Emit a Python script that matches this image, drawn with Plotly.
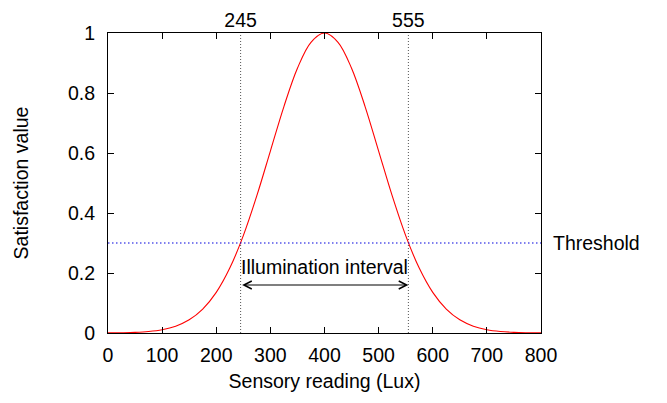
import plotly.graph_objects as go

# Sensory reading (Lux) and satisfaction value
lux = [0, 25, 50, 75, 100, 125, 150, 175, 200, 225, 250, 275, 300, 325, 350, 375,
       400, 425, 450, 475, 500, 525, 550, 575, 600, 625, 650, 675, 700, 725, 750, 775, 800]
satisfaction = [0.0003, 0.0009, 0.0022, 0.0051, 0.0111, 0.0228, 0.0439, 0.0796, 0.1353,
                0.2163, 0.3247, 0.4578, 0.6065, 0.7548, 0.8825, 0.969, 1.0,
                0.969, 0.8825, 0.7548, 0.6065, 0.4578, 0.3247, 0.2163, 0.1353, 0.0796,
                0.0439, 0.0228, 0.0111, 0.0051, 0.0022, 0.0009, 0.0003]

threshold = 0.3
interval = [245, 555]
interval_label = "Illumination interval"
arrow_level = 0.16
x_ticks = [0, 100, 200, 300, 400, 500, 600, 700, 800]
y_ticks = [0, 0.2, 0.4, 0.6, 0.8, 1]
y_ticktext = ["0", "0.2", "0.4", "0.6", "0.8", "1"]

FONT = "Liberation Sans"
FS = 19.5

fig = go.Figure()
fig.add_trace(go.Scatter(x=lux, y=satisfaction, mode="lines",
                         line=dict(color="#ff0000", width=1.1, shape="spline"),
                         showlegend=False, hoverinfo="x+y"))
# invisible trace for the top axis
fig.add_trace(go.Scatter(x=interval, y=[threshold, threshold], xaxis="x2", mode="markers",
                         marker=dict(opacity=0), showlegend=False, hoverinfo="skip"))

shapes = []
for xv in interval:
    shapes.append(dict(type="line", xref="x", yref="y", x0=xv, x1=xv, y0=0, y1=1,
                       line=dict(color="#555555", width=1, dash="1px,2px"), layer="below"))
shapes.append(dict(type="line", xref="x", yref="y", x0=0, x1=800, y0=threshold, y1=threshold,
                   line=dict(color="#0000dd", width=1.2, dash="1.5px,2.5px")))
fig.update_layout(shapes=shapes)

fig.add_annotation(x=interval[1], y=arrow_level, ax=interval[0], ay=arrow_level,
                   xref="x", yref="y", axref="x", ayref="y", text="",
                   showarrow=True, arrowhead=5, arrowside="end+start",
                   arrowsize=1.3, arrowwidth=1.2, arrowcolor="black")
fig.add_annotation(x=sum(interval) / 2, y=arrow_level, xref="x", yref="y",
                   text=interval_label, showarrow=False, yshift=18,
                   font=dict(family=FONT, size=FS, color="black"))
fig.add_annotation(x=1.022, y=threshold, xref="paper", yref="y", text="Threshold",
                   showarrow=False, xanchor="left",
                   font=dict(family=FONT, size=FS, color="black"))

fig.update_layout(
    width=659, height=395,
    margin=dict(l=100, r=126, t=25, b=70, autoexpand=False),
    plot_bgcolor="white", paper_bgcolor="white",
    font=dict(family=FONT, size=FS, color="black"),
    xaxis=dict(range=[0, 800], tickvals=x_ticks, ticks="inside", ticklen=6,
               tickcolor="black", showline=True, linecolor="black", linewidth=1,
               mirror="ticks", showgrid=False, zeroline=False, automargin=False,
               ticklabelstandoff=5,
               title=dict(text="Sensory reading (Lux)", standoff=8,
                          font=dict(family=FONT, size=FS)),
               tickfont=dict(family=FONT, size=FS)),
    xaxis2=dict(range=[0, 800], overlaying="x", side="top", tickvals=interval,
                ticks="", showline=False, showgrid=False, zeroline=False,
                automargin=False, ticklabelstandoff=1,
                tickfont=dict(family=FONT, size=FS)),
    yaxis=dict(range=[0, 1], tickvals=y_ticks, ticktext=y_ticktext,
               ticks="inside", ticklen=6, tickcolor="black", showline=True,
               linecolor="black", linewidth=1, mirror="ticks", showgrid=False,
               zeroline=False, automargin=False, ticklabelstandoff=8,
               title=dict(text="Satisfaction value", standoff=34,
                          font=dict(family=FONT, size=FS)),
               tickfont=dict(family=FONT, size=FS)),
)

fig.write_html("out.html")
